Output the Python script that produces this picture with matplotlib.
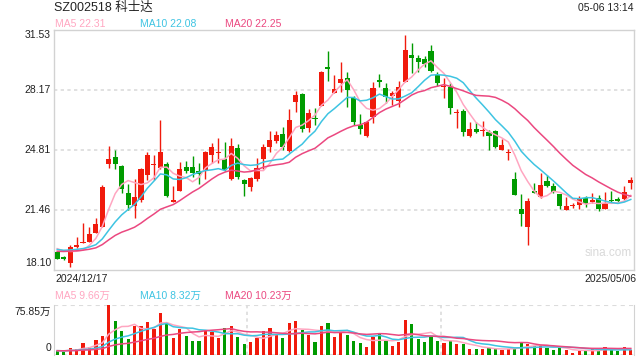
import numpy as np
import pandas as pd
import matplotlib
matplotlib.use('Agg')
import matplotlib.pyplot as plt

plt.rcParams['font.family'] = ['Liberation Sans', 'Noto Sans CJK SC', 'DejaVu Sans']

# daily candles, 2024/12/17 .. 2025/05/06
opens = [19.09, 18.81, 18.51, 19.39, 19.63, 19.69, 20.19, 20.52, 24.01, 24.42,
         23.92, 22.41, 21.70, 22.02, 23.42, 23.96, 23.79, 24.03, 21.92, 22.52,
         23.86, 23.86, 23.62, 23.62, 24.55, 24.67, 24.31, 23.21, 24.91, 23.14,
         22.76, 23.21, 24.33, 25.00, 25.34, 25.71, 24.76, 27.52, 27.95, 26.06,
         26.61, 27.30, 29.46, 28.02, 28.55, 28.83, 27.71, 26.23, 25.60, 26.68,
         28.73, 28.27, 27.84, 27.58, 28.64, 30.13, 29.94, 29.91, 30.35, 29.01,
         28.32, 28.32, 26.87, 27.01, 25.60, 25.99, 25.88, 25.84, 25.88, 24.81,
         24.67, 23.17, 21.51, 20.52, 22.52, 22.20, 23.08, 22.80, 22.35, 21.46,
         21.68, 21.74, 22.11, 21.90, 22.11, 21.51, 22.02, 22.07, 22.07, 22.99]
highs = [19.16, 18.90, 19.52, 19.97, 20.71, 20.52, 20.99, 22.84, 25.04, 24.82,
         23.96, 22.91, 23.17, 23.79, 24.72, 24.54, 26.49, 24.16, 22.82, 24.16,
         24.22, 24.50, 24.07, 24.76, 25.22, 25.49, 25.28, 25.49, 25.15, 23.21,
         23.32, 24.39, 25.17, 25.88, 25.90, 26.08, 27.13, 28.12, 28.02, 27.09,
         27.18, 29.25, 30.35, 29.01, 29.72, 29.20, 27.84, 26.81, 26.44, 28.60,
         29.07, 28.55, 28.10, 28.70, 31.25, 30.78, 30.13, 30.09, 30.69, 29.20,
         28.86, 28.58, 27.09, 27.09, 26.40, 26.40, 26.46, 25.93, 25.95, 25.43,
         24.87, 23.56, 22.35, 22.13, 22.99, 23.51, 23.40, 22.95, 22.35, 22.20,
         21.83, 22.24, 22.26, 22.43, 22.30, 22.47, 22.52, 22.20, 22.80, 23.32]
lows = [18.70, 18.64, 18.29, 19.31, 19.60, 19.67, 20.15, 20.49, 23.83, 23.75,
        22.43, 21.46, 21.03, 21.92, 23.14, 23.14, 23.77, 22.20, 21.90, 22.52,
        23.51, 23.32, 22.91, 23.17, 24.07, 24.10, 23.66, 23.14, 23.17, 22.24,
        22.54, 23.10, 23.73, 24.72, 25.19, 24.81, 24.72, 26.92, 25.82, 25.84,
        26.21, 27.30, 28.69, 28.02, 28.08, 27.20, 26.21, 25.71, 25.56, 26.31,
        28.36, 27.46, 27.33, 27.20, 28.64, 29.11, 29.20, 29.44, 29.20, 28.40,
        27.71, 26.81, 26.06, 25.60, 25.56, 25.75, 25.60, 24.81, 24.92, 24.81,
        24.25, 22.28, 20.56, 19.50, 22.39, 22.11, 22.73, 22.39, 21.49, 21.46,
        21.55, 21.51, 21.64, 21.87, 21.42, 21.51, 21.90, 21.83, 22.02, 22.61]
closes = [18.73, 18.72, 19.39, 19.50, 19.69, 20.11, 20.66, 22.76, 24.31, 24.05,
          22.65, 21.76, 22.19, 23.75, 24.54, 24.05, 24.70, 22.24, 22.02, 23.75,
          23.66, 23.51, 23.45, 24.70, 24.98, 24.70, 23.70, 25.04, 23.32, 22.89,
          23.27, 23.83, 25.00, 25.37, 25.64, 25.00, 26.49, 27.89, 26.01, 26.90,
          26.57, 29.20, 29.37, 28.23, 28.79, 28.17, 26.38, 26.01, 26.38, 28.27,
          28.64, 27.80, 27.99, 28.32, 30.41, 29.98, 29.76, 29.61, 29.25, 28.55,
          28.34, 27.18, 26.90, 25.84, 25.97, 25.84, 25.92, 25.60, 25.00, 25.09,
          24.70, 22.28, 21.23, 21.98, 22.43, 22.86, 22.80, 22.46, 21.68, 21.68,
          21.72, 22.05, 21.79, 22.02, 21.51, 21.87, 21.96, 21.96, 22.46, 23.14]
# volume in 万
volumes = [6.1, 4.6, 11.1, 8.6, 18.7, 12.1, 22.8, 29.3, 75.85, 51.6,
           36.4, 24.3, 44.5, 44.0, 50.1, 40.0, 63.7, 48.0, 26.3, 39.4,
           29.3, 21.2, 21.2, 37.4, 35.4, 26.3, 41.0, 44.5, 27.3, 17.2,
           19.7, 26.3, 36.4, 41.5, 31.4, 26.3, 49.1, 51.6, 37.9, 29.8,
           20.2, 44.5, 48.5, 27.3, 35.4, 30.3, 21.2, 18.2, 12.1, 27.8,
           32.9, 21.2, 13.7, 19.7, 53.1, 47.0, 24.3, 19.7, 27.8, 21.2,
           18.2, 21.2, 16.7, 16.7, 9.1, 9.1, 9.1, 11.1, 9.1, 7.6,
           9.1, 11.1, 18.2, 16.7, 13.7, 15.2, 11.1, 7.6, 11.1, 7.6,
           3.0, 6.6, 6.6, 9.1, 7.6, 11.6, 7.6, 6.6, 11.6, 8.1]
# sessions before the window, only feed the moving averages
prev_closes = [18.95, 19.02, 19.10, 18.98, 19.05, 19.12, 19.08, 19.00, 19.10, 19.06,
               19.15, 19.22, 19.18, 19.25, 19.20, 19.38, 19.52, 19.45, 19.40]
prev_volumes = [6.5, 5.8, 7.2, 6.0, 5.5, 6.8, 7.5, 6.2, 5.9, 6.4,
                7.0, 6.6, 5.7, 6.3, 7.1, 6.9, 6.0, 7.4, 6.8]

start_date = '2024/12/17'
end_date = '2025/05/06'
title = 'SZ002518 科士达'
stamp = '05-06 13:14'
price_ticks = [18.10, 21.46, 24.81, 28.17, 31.53]
vol_top = 75.85
# values printed in the legends
ma_labels = ['MA5 22.31', 'MA10 22.08', 'MA20 22.25']
vma_labels = ['MA5 9.66万', 'MA10 8.32万', 'MA20 10.23万']

RED = '#f01a0c'
GREEN = '#009b00'
C5, C10, C20 = '#ffa6c1', '#3ec4e2', '#eb4880'
GRID = '#dcdcdc'
BORDER = '#d2d2d2'
TXT = '#222222'

n = len(closes)
x = np.arange(n)
o = np.array(opens)
c = np.array(closes)
up = c >= o
colors = [RED if u else GREEN for u in up]

allc = pd.Series(prev_closes + closes)
allv = pd.Series(prev_volumes + volumes)
k = len(prev_closes)
ma = {w: allc.rolling(w, min_periods=1).mean().values[k:] for w in (5, 10, 20)}
vma = {w: allv.rolling(w, min_periods=1).mean().values[k:] for w in (5, 10, 20)}

fig = plt.figure(figsize=(6.4, 3.6), dpi=100)
W, H = 640, 360


def fx(px):
    return px / W


def fy(py):
    return 1 - py / H


# price panel
ax = fig.add_axes([fx(54), fy(270), fx(634) - fx(54), fy(30) - fy(270)])
ax.set_xlim(-0.5, n - 0.5)
ax.set_ylim(price_ticks[0], price_ticks[-1])
for yv in price_ticks[1:-1]:
    ax.axhline(yv, color=GRID, lw=1.2, ls=(0, (2, 2)), zorder=0)
ax.vlines(x, lows, highs, colors=colors, lw=1, zorder=2)
body_lo = np.minimum(o, c)
body_h = np.maximum(np.abs(c - o), 0.05)
ax.bar(x, body_h, bottom=body_lo, width=0.78, color=colors, lw=0, zorder=3)
ax.plot(x, ma[5], color=C5, lw=1.1, zorder=4)
ax.plot(x, ma[10], color=C10, lw=1.1, zorder=4)
ax.plot(x, ma[20], color=C20, lw=1.1, zorder=4)
ax.set_xticks([])
ax.set_yticks([])
for s in ax.spines.values():
    s.set_color(BORDER)
    s.set_linewidth(1)
ax.text(0.955, 0.07, 'sina.com', transform=ax.transAxes, ha='center', va='center',
        fontsize=8.5, color='#d9d9d9')

for i, yv in enumerate(price_ticks):
    dy = 0
    if i == 0:
        dy = 7
    if i == len(price_ticks) - 1:
        dy = -5
    ypx = 270 - (yv - price_ticks[0]) / (price_ticks[-1] - price_ticks[0]) * 240 - dy
    fig.text(fx(51), fy(ypx), '%.2f' % yv, ha='right', va='center', fontsize=7.5, color=TXT)

fig.text(fx(55), fy(279), start_date, ha='left', va='center', fontsize=7.5, color=TXT)
fig.text(fx(636), fy(279), end_date, ha='right', va='center', fontsize=7.5, color=TXT)

fig.text(fx(54), fy(8), title, ha='left', va='center', fontsize=9, color=TXT)
fig.text(fx(634), fy(8), stamp, ha='right', va='center', fontsize=7.5, color=TXT)
for lab, col, xp in zip(ma_labels, (C5, C10, C20), (55, 140, 225)):
    fig.text(fx(xp), fy(24), lab, ha='left', va='center', fontsize=7.5, color=col)

# volume panel
axv = fig.add_axes([fx(54), fy(355), fx(634) - fx(54), fy(305) - fy(355)])
axv.set_xlim(-0.5, n - 0.5)
axv.set_ylim(0, vol_top)
axv.bar(x, volumes, width=0.5, color=colors, lw=0, zorder=2)
axv.plot(x, vma[5], color=C5, lw=1.1, zorder=3)
axv.plot(x, vma[10], color=C10, lw=1.1, zorder=3)
axv.plot(x, vma[20], color=C20, lw=1.1, zorder=3)
for xv in (-0.5 + n / 3, -0.5 + 2 * n / 3):
    axv.axvline(xv, color=GRID, lw=1.2, ls=(0, (2, 2)), zorder=0)
axv.axhline(vol_top, color=GRID, lw=1.5, ls=(0, (2, 2)), zorder=0)
axv.axhline(0, color=GRID, lw=1.5, ls=(0, (2, 2)), zorder=1)
axv.set_xticks([])
axv.set_yticks([])
for side in ('top', 'bottom'):
    axv.spines[side].set_visible(False)
for side in ('left', 'right'):
    axv.spines[side].set_color(BORDER)

fig.text(fx(51), fy(312), '%.2f万' % vol_top, ha='right', va='center', fontsize=7.5, color=TXT)
fig.text(fx(51), fy(348), '0', ha='right', va='center', fontsize=7.5, color=TXT)
for lab, col, xp in zip(vma_labels, (C5, C10, C20), (55, 140, 225)):
    fig.text(fx(xp), fy(296), lab, ha='left', va='center', fontsize=7.5, color=col)

fig.savefig('out.png', dpi=100, facecolor='white')
